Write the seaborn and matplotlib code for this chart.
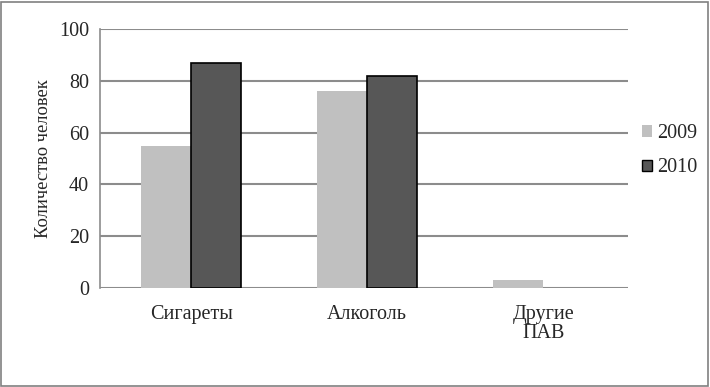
import pandas as pd
import matplotlib.pyplot as plt
import seaborn as sns
from matplotlib.patches import Rectangle

# данные с графика
categories = ['Сигареты', 'Алкоголь', 'Другие\nПАВ']
years = ['2009', '2010']
values_2009 = [55, 76, 3]
values_2010 = [87, 82, 0]

df = pd.DataFrame({
    'category': categories * 2,
    'year': [years[0]] * 3 + [years[1]] * 3,
    'value': values_2009 + values_2010,
})

sns.set_style('white')
plt.rcParams['font.family'] = ['Liberation Serif', 'DejaVu Serif']

fig = plt.figure(figsize=(7.1, 3.87), dpi=100)
ax = fig.add_axes([0.141, 0.256, 0.744, 0.669])

palette = {'2009': '#c0c0c0', '2010': '#575757'}
sns.barplot(data=df, x='category', y='value', hue='year', palette=palette,
            width=0.57, saturation=1, ax=ax, legend=False)

# обводка только у тёмных столбцов (и не у нулевых)
for bar in ax.patches[:3]:
    bar.set_edgecolor('none')
for bar in ax.patches[3:6]:
    if bar.get_height() > 0:
        bar.set_edgecolor('black')
        bar.set_linewidth(1.2)
    else:
        bar.set_edgecolor('none')

ax.set_ylim(0, 100)
ax.set_yticks([0, 20, 40, 60, 80, 100])
ax.yaxis.grid(True, color='#8c8c8c', linewidth=1.5)
ax.set_axisbelow(True)
ax.set_xlim(-0.517, 2.483)
for s in ['top', 'right', 'bottom']:
    ax.spines[s].set_visible(False)
ax.spines['left'].set_color('#8c8c8c')
ax.spines['left'].set_linewidth(1.2)
ax.tick_params(axis='y', length=0, pad=8, labelsize=14.5)
ax.tick_params(axis='x', length=0, pad=12, labelsize=14.5)
ax.set_xlabel('')
ax.set_ylabel('Количество человек', fontsize=13.3, labelpad=5)
for lbl in ax.get_xticklabels():
    lbl.set_linespacing(1.05)

# легенда справа
handles = [Rectangle((0, 0), 1, 1, facecolor=palette['2009'], edgecolor='none'),
           Rectangle((0, 0), 1, 1, facecolor=palette['2010'], edgecolor='black')]
fig.legend(handles, years, loc='center left', bbox_to_anchor=(0.893, 0.61),
           frameon=False, fontsize=14.5, handlelength=0.5, handleheight=0.5,
           handletextpad=0.25, labelspacing=0.75, borderaxespad=0)

# рамка вокруг рисунка
fig.patches.append(Rectangle((0.002, 0.003), 0.995, 0.993, transform=fig.transFigure,
                             fill=False, edgecolor='#808080', linewidth=1.2))

fig.savefig('out.png', dpi=100)
